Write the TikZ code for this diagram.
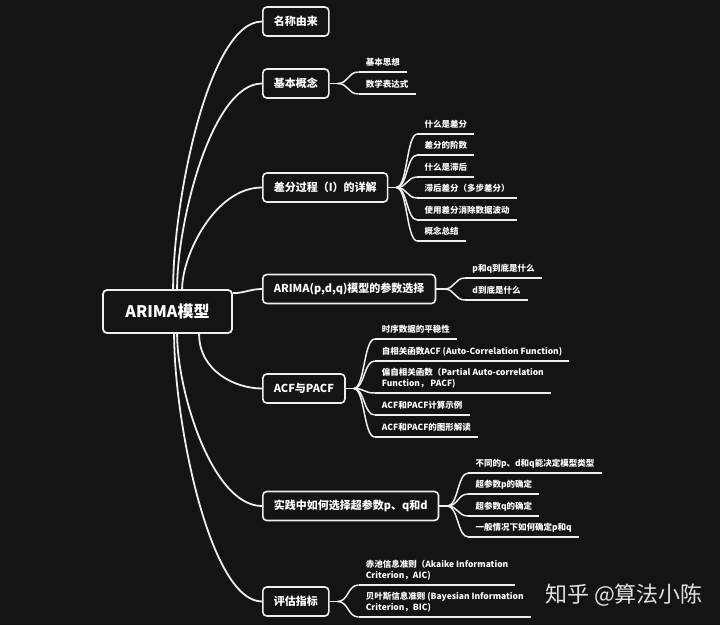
\documentclass[tikz,border=0pt]{standalone}
\usepackage{fontspec}
\setmainfont{Noto Sans CJK SC}
\usetikzlibrary{calc}
\definecolor{bg}{RGB}{20,20,20}
\definecolor{ln}{RGB}{238,238,238}
\definecolor{wm}{RGB}{225,225,225}
\tikzset{
  rootbox/.style={draw=ln, line width=1.8pt, rounded corners=4pt, fill=bg, text=white,
    font=\fontsize{16}{18}\selectfont\bfseries, minimum width=129pt, minimum height=43pt, inner sep=0pt},
  topicbox/.style={draw=ln, line width=1.6pt, rounded corners=4pt, fill=bg, text=white,
    font=\fontsize{11}{13}\selectfont\bfseries, minimum height=29pt, inner xsep=11pt, inner ysep=0pt, anchor=west},
  leaf/.style={text=white, font=\fontsize{8.5}{11.5}\selectfont\bfseries, inner xsep=7pt, inner ysep=4.5pt,
    text depth=1.5pt, anchor=south west},
  leafml/.style={text=white, font=\fontsize{8.5}{11.5}\selectfont\bfseries, inner xsep=7pt, inner ysep=4.5pt,
    align=left, anchor=south west},
  mainlink/.style={draw=ln, line width=1.8pt},
  leaflink/.style={draw=ln, line width=1.5pt},
}
\begin{document}
\begin{tikzpicture}[x=1pt,y=-1pt]
\useasboundingbox (0,0) rectangle (720,625);
\fill[bg] (0,0) rectangle (720,625);

% root
\node[rootbox] (root) at (167.5,311.5) {ARIMA模型};

% topics
\node[topicbox] (b1) at (262,21.5) {名称由来};
\node[topicbox] (b2) at (262,83.5) {基本概念};
\node[topicbox] (b3) at (262,187.5) {差分过程（I）的详解};
\node[topicbox] (b4) at (262,289) {ARIMA(p,d,q)模型的参数选择};
\node[topicbox] (b5) at (262,388.5) {ACF与PACF};
\node[topicbox] (b6) at (262,506) {实践中如何选择超参数p、q和d};
\node[topicbox] (b7) at (262,601.5) {评估指标};

% root connector start points
\coordinate (r1) at ([xshift=71pt]root.north west);
\coordinate (r2) at ([xshift=75pt]root.north west);
\coordinate (r3) at ([xshift=80pt]root.north west);
\coordinate (r4) at ([yshift=-4pt]root.north east);
\coordinate (r5) at ([xshift=97pt]root.south west);
\coordinate (r6) at ([xshift=75pt]root.south west);
\coordinate (r7) at ([xshift=72pt]root.south west);

\path[mainlink] (r1) .. controls +(0,-89) and +(-53,0) .. (b1.west);
\path[mainlink] (r2) .. controls +(0,-68) and +(-50,0) .. (b2.west);
\path[mainlink] (r3) .. controls +(0,-34) and +(-47,0) .. (b3.west);
\path[mainlink] (r4) .. controls +(12,0) and +(-12,0) .. (b4.west);
\path[mainlink] (r5) .. controls +(0,37) and +(-27,0) .. (b5.west);
\path[mainlink] (r6) .. controls +(0,57) and +(-50,0) .. (b6.west);
\path[mainlink] (r7) .. controls +(0,88) and +(-52,0) .. (b7.west);

% junctions and leaf anchors
\foreach \b in {b2,b3,b4,b5,b6,b7}{
  \coordinate (j\b) at ([xshift=8pt]\b.east);
  \coordinate (k\b) at ([xshift=29pt]\b.east);
  \path[mainlink] (\b.east) -- (j\b);
}

% leaves: 基本概念
\node[leaf] (l21) at (kb2 |- 0,72) {基本思想};
\node[leaf] (l22) at (kb2 |- 0,94) {数学表达式};
% 差分过程
\node[leaf] (l31) at (kb3 |- 0,134) {什么是差分};
\node[leaf] (l32) at (kb3 |- 0,155) {差分的阶数};
\node[leaf] (l33) at (kb3 |- 0,177) {什么是滞后};
\node[leaf] (l34) at (kb3 |- 0,198) {滞后差分（多步差分）};
\node[leaf] (l35) at (kb3 |- 0,220) {使用差分消除数据波动};
\node[leaf] (l36) at (kb3 |- 0,241) {概念总结};
% ARIMA params
\node[leaf] (l41) at (kb4 |- 0,278) {p和q到底是什么};
\node[leaf] (l42) at (kb4 |- 0,300) {d到底是什么};
% ACF
\node[leaf] (l51) at (kb5 |- 0,339) {时序数据的平稳性};
\node[leaf] (l52) at (kb5 |- 0,361) {自相关函数ACF (Auto-Correlation Function)};
\node[leafml] (l53) at (kb5 |- 0,393) {偏自相关函数（Partial Auto-correlation\\Function，  PACF)};
\node[leaf] (l54) at (kb5 |- 0,415) {ACF和PACF计算示例};
\node[leaf] (l55) at (kb5 |- 0,437) {ACF和PACF的图形解读};
% 实践
\node[leaf] (l61) at (kb6 |- 0,473) {不同的p、d和q能决定模型类型};
\node[leaf] (l62) at (kb6 |- 0,494) {超参数p的确定};
\node[leaf] (l63) at (kb6 |- 0,516) {超参数q的确定};
\node[leaf] (l64) at (kb6 |- 0,537) {一般情况下如何确定p和q};
% 评估
\node[leafml] (l71) at (kb7 |- 0,585) {赤池信息准则（Akaike Information\\Criterion，AIC)};
\node[leafml] (l72) at (kb7 |- 0,617) {贝叶斯信息准则 (Bayesian Information\\Criterion，BIC)};

% leaf connectors and underlines
\foreach \b/\l in {b2/l21,b2/l22,b3/l31,b3/l32,b3/l33,b3/l34,b3/l35,b3/l36,
  b4/l41,b4/l42,b5/l51,b5/l52,b5/l53,b5/l54,b5/l55,
  b6/l61,b6/l62,b6/l63,b6/l64,b7/l71,b7/l72}{
  \path[leaflink] (j\b) .. controls +(11,0) and +(-11,0) .. (\l.south west);
  \path[leaflink] (\l.south west) -- (\l.south east);
}

% watermark
\node[text=wm, font=\fontsize{22}{24}\selectfont, anchor=west, inner sep=0pt] (wmk) at (545,595) {知乎 @算法小陈};
\end{tikzpicture}
\end{document}
